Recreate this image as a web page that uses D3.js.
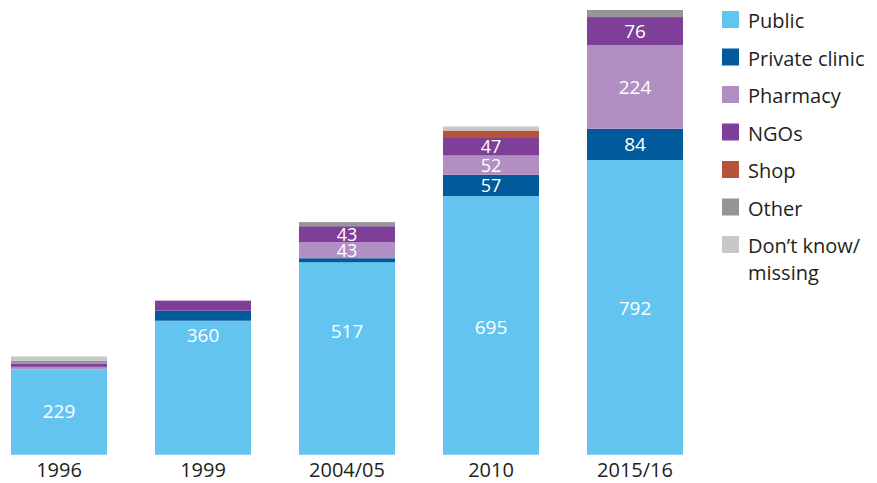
<!DOCTYPE html>
<html>
<head>
<meta charset="utf-8">
<script src="https://cdn.jsdelivr.net/npm/d3@7"></script>
<style>
  body { margin: 0; background: #fff; }
  text { font-family: "Open Sans", Roboto, sans-serif; }
</style>
</head>
<body>
<div id="chart"></div>
<script>
// data
var years = ["1996", "1999", "2004/05", "2010", "2015/16"];
var sources = ["Public", "Private clinic", "Pharmacy", "NGOs", "Shop", "Other", "Don\u2019t know/ missing"];
var colors = ["#63c5ef", "#005a9c", "#b28fc3", "#7f3f98", "#b5533c", "#939598", "#c7c8ca"];

var publicVals   = [229, 360, 517, 695, 792];
var privateVals  = [0, 27, 11, 57, 84];
var pharmacyVals = [7, 0, 43, 52, 224];
var ngoVals      = [8, 27, 43, 47, 76];
var shopVals     = [0, 0, 0, 20, 0];
var otherVals    = [8, 0, 11, 0, 19];
var dkVals       = [12, 0, 0, 11, 0];

// where the public label sits (in data units, the reference does not center them all)
var publicLabelAt = [116, 322, 332, 343, 395];

var series = [publicVals, privateVals, pharmacyVals, ngoVals, shopVals, otherVals, dkVals];

var W = 877, H = 483;
var svg = d3.select("#chart").append("svg").attr("width", W).attr("height", H);

var table = years.map(function (y, i) {
  var row = {year: y};
  sources.forEach(function (s, k) { row[s] = series[k][i]; });
  return row;
});

var stack = d3.stack().keys(sources)(table);

var x = d3.scaleBand().domain(years).range([11, 683]).paddingInner(1 / 3).paddingOuter(0);
var y = d3.scaleLinear().domain([0, 1195]).range([454.7, 10]);

var g = svg.append("g");

stack.forEach(function (layer, k) {
  g.selectAll(".seg" + k).data(layer).enter().append("rect")
    .attr("x", function (d) { return x(d.data.year); })
    .attr("width", x.bandwidth())
    .attr("y", function (d) { return y(d[1]); })
    .attr("height", function (d) { return y(d[0]) - y(d[1]); })
    .attr("fill", colors[k]);
});

// value labels
stack.forEach(function (layer, k) {
  layer.forEach(function (d, i) {
    var v = d[1] - d[0];
    if (v < 40) return;
    var cy = k == 0 ? y(publicLabelAt[i]) : y((d[0] + d[1]) / 2);
    g.append("text")
      .attr("x", x(d.data.year) + x.bandwidth() / 2)
      .attr("y", cy)
      .attr("dy", "0.36em")
      .attr("text-anchor", "middle")
      .attr("fill", "#fff")
      .style("font-size", v < 60 ? "18px" : "19px")
      .text(v);
  });
});

// x axis labels
var xAxis = svg.append("g").attr("transform", "translate(0,454.7)")
  .call(d3.axisBottom(x).tickSize(0).tickPadding(8));
xAxis.select(".domain").remove();
xAxis.selectAll("text").style("font-size", "20px").attr("fill", "#231f20")
  .style("font-family", "'Open Sans', Roboto, sans-serif");

// legend
var legend = svg.append("g").attr("transform", "translate(722,11)");
sources.forEach(function (s, k) {
  var row = legend.append("g").attr("transform", "translate(0," + (k * 37.5) + ")");
  row.append("rect").attr("width", 17).attr("height", 17).attr("fill", colors[k]);
  var t = row.append("text").attr("x", 26).attr("y", 17)
    .attr("fill", "#231f20").style("font-size", "20px");
  s.split(" ").length > 2 && s.indexOf("missing") > 0
    ? (t.append("tspan").attr("x", 26).text("Don\u2019t know/"),
       t.append("tspan").attr("x", 26).attr("dy", 27).text("missing"))
    : t.text(s);
});
</script>
</body>
</html>
